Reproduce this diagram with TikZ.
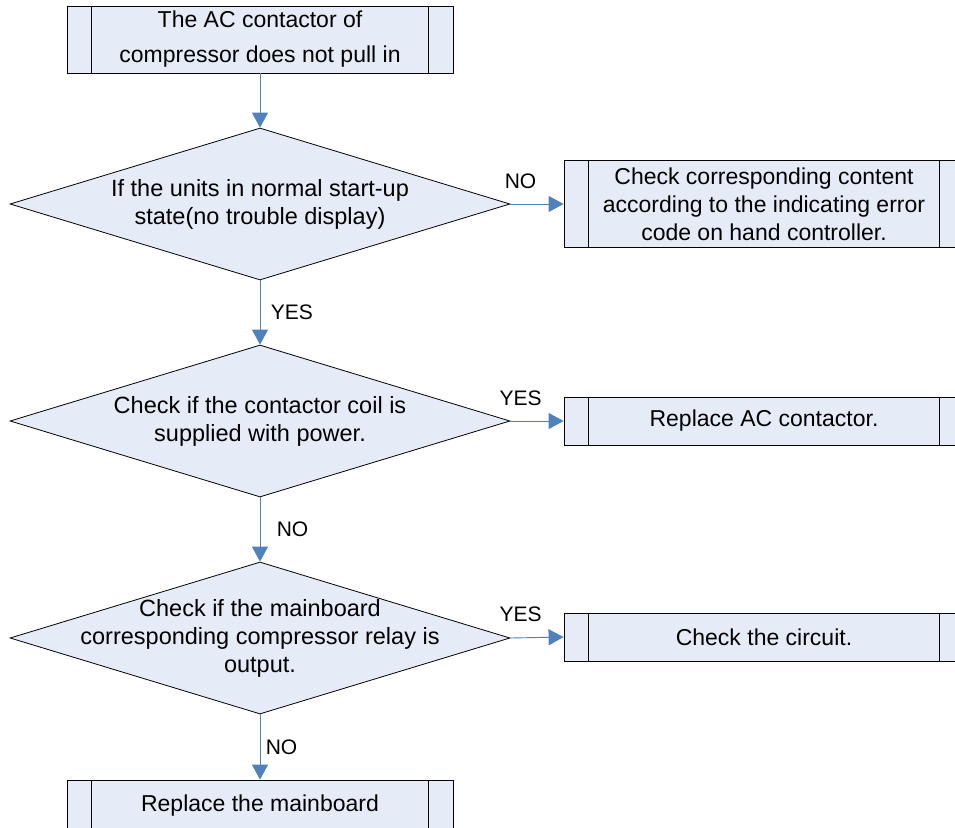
\documentclass[tikz,border=0pt]{standalone}
\usepackage{fontspec}
\setmainfont{Liberation Sans}
\usetikzlibrary{shapes.geometric,arrows.meta}
\definecolor{boxfill}{RGB}{230,236,247}
\definecolor{flowblue}{RGB}{79,129,189}

\begin{document}
\begin{tikzpicture}[x=1pt,y=-1pt,
        procbox/.style={draw, line width=0.8pt, fill=boxfill, minimum width=386pt,
            minimum height=67pt, inner sep=0pt, align=center,
            font=\fontsize{23}{35}\selectfont},
        decision/.style={draw, line width=0.8pt, fill=boxfill, diamond,
            minimum width=500pt, minimum height=152pt, inner sep=0pt},
        qtext/.style={align=center, font=\fontsize{23.5}{28}\selectfont},
        flow/.style={draw=flowblue, line width=0.9pt,
            -{Triangle[width=16pt,length=15pt,fill=flowblue]}},
        lbl/.style={font=\fontsize{21}{24}\selectfont}]
    \useasboundingbox (0,0) rectangle (955,827);
    \clip (0,0) rectangle (955,827);

    % left column
    \node[procbox] (start) at (260,39.5) {The AC contactor of\\compressor does not pull in};
    \node[decision] (q1) at (260,204) {};
    \node[qtext] (q1t) at (q1) {If the units in normal start-up\\state(no trouble display)};
    \node[decision] (q2) at (260,421) {};
    \node[qtext] (q2t) at (q2) {Check if the contactor coil is\\supplied with power.};
    \node[decision] (q3) at (260,638) {};
    \node[qtext] (q3t) at (q3) {Check if the mainboard\\corresponding compressor relay is\\output.};
    \node[procbox, minimum height=52pt] (board) at (260,806) {Replace the mainboard};

    % right column
    \node[procbox, minimum width=400pt, minimum height=87pt,
        font=\fontsize{23}{28}\selectfont] (err) at (764,204)
        {Check corresponding content\\according to the indicating error\\code on hand controller.};
    \node[procbox, minimum width=400pt, minimum height=48pt] (ac) at (764,421) {Replace AC contactor.};
    \node[procbox, minimum width=400pt, minimum height=48pt] (circ) at (764,637) {Check the circuit.};

    % side bars of the process boxes
    \foreach \b in {start,err,ac,circ,board}
        \draw[line width=0.8pt] ([xshift=25pt]\b.north west) -- ([xshift=25pt]\b.south west)
            ([xshift=-25pt]\b.north east) -- ([xshift=-25pt]\b.south east);

    % connectors
    \draw[flow] (start) -- (q1);
    \draw[flow] (q1.east) -- node[lbl, pos=0.19, above=12pt] {NO} (err.west);
    \draw[flow] (q1.south) -- node[lbl, right=7pt] {YES} (q2.north);
    \draw[flow] (q2.east) -- node[lbl, pos=0.19, above=12pt] {YES} (ac.west);
    \draw[flow] (q2.south) -- node[lbl, right=13pt] {NO} (q3.north);
    \draw[flow] (q3.east) -- node[lbl, pos=0.19, above=12pt] {YES} (circ.west);
    \draw[flow] (q3.south) -- node[lbl, right=2pt] {NO} (board.north);
\end{tikzpicture}
\end{document}
